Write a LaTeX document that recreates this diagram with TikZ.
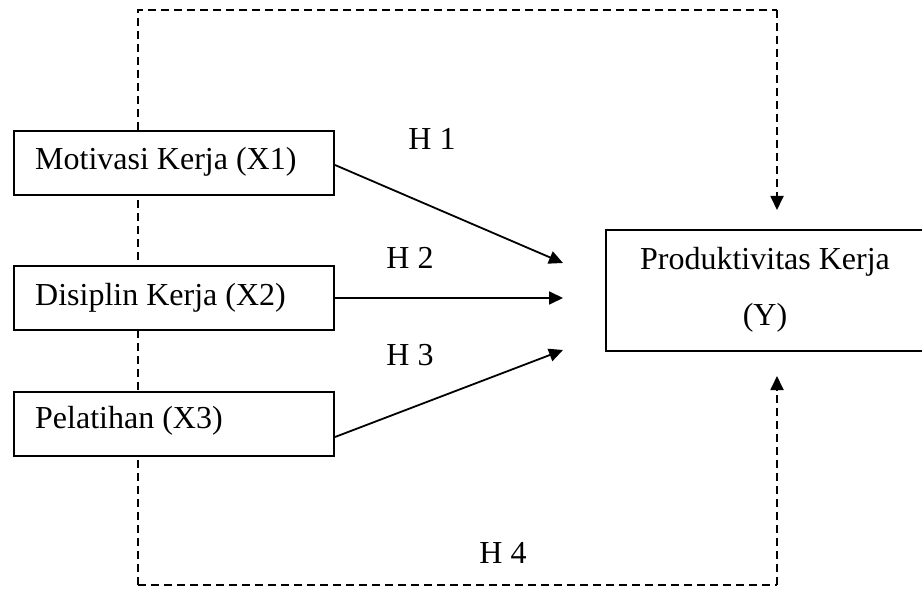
\documentclass[tikz,border=0pt]{standalone}
\usepackage{fontspec}
\setmainfont{Liberation Serif}
\usetikzlibrary{arrows.meta}
\begin{document}
\begin{tikzpicture}[x=1pt,y=-1pt,
  box/.style={draw=black, line width=2pt, fill=white, inner sep=0pt, anchor=north west},
  lbl/.style={font=\fontsize{32}{38}\selectfont, inner sep=0pt},
  solidarr/.style={line width=1.8pt, -{Triangle[length=14pt,width=13pt]}},
  dasharr/.style={line width=1.8pt, dash pattern=on 8pt off 5pt, -{Triangle[length=14pt,width=13pt]}},
  dashline/.style={line width=1.8pt, dash pattern=on 8pt off 5pt}]
\useasboundingbox (0,0) rectangle (922,591);
% dashed frame (drawn beneath the boxes)
\coordinate (tl) at (138,10);
\coordinate (tr) at (777,10);
\coordinate (bl) at (138,585);
\coordinate (br) at (777,585);
\coordinate (tend) at (777,210);
\coordinate (bend) at (777,376);
\draw[dashline] (bl) -- (tl) -- (tr);
\draw[dasharr] (tr) -- (tend);
\draw[dashline] (bl) -- (br);
\draw[dasharr] (br) -- (bend);
% boxes
\node[box, minimum width=320pt, minimum height=64pt] (x1) at (13,130) {};
\node[box, minimum width=320pt, minimum height=64pt] (x2) at (13,265) {};
\node[box, minimum width=320pt, minimum height=64pt] (x3) at (13,391) {};
\node[box, minimum width=318pt, minimum height=121pt] (y) at (605,229) {};
\node[lbl, anchor=west] (t1) at (35,162) {Motivasi Kerja (X1)};
\node[lbl, anchor=west] (t2) at (35,298) {Disiplin Kerja (X2)};
\node[lbl, anchor=west] (t3) at (35,421) {Pelatihan (X3)};
\node[lbl] (ty1) at (765,262) {Produktivitas Kerja};
\node[lbl] (ty2) at (765,318) {(Y)};
% arrows
\coordinate (s1) at ([yshift=-2pt]x1.east);
\coordinate (s3) at ([yshift=-13pt]x3.east);
\coordinate (e1) at (563,263);
\coordinate (e2) at (563,298);
\coordinate (e3) at (563,350);
\draw[solidarr] (s1) -- (e1);
\draw[solidarr] (x2.east) -- (e2);
\draw[solidarr] (s3) -- (e3);
% labels
\node[lbl] (h1) at (432,139) {H 1};
\node[lbl] (h2) at (410,258) {H 2};
\node[lbl] (h3) at (410,355) {H 3};
\node[lbl] (h4) at (503,553) {H 4};
\end{tikzpicture}
\end{document}
